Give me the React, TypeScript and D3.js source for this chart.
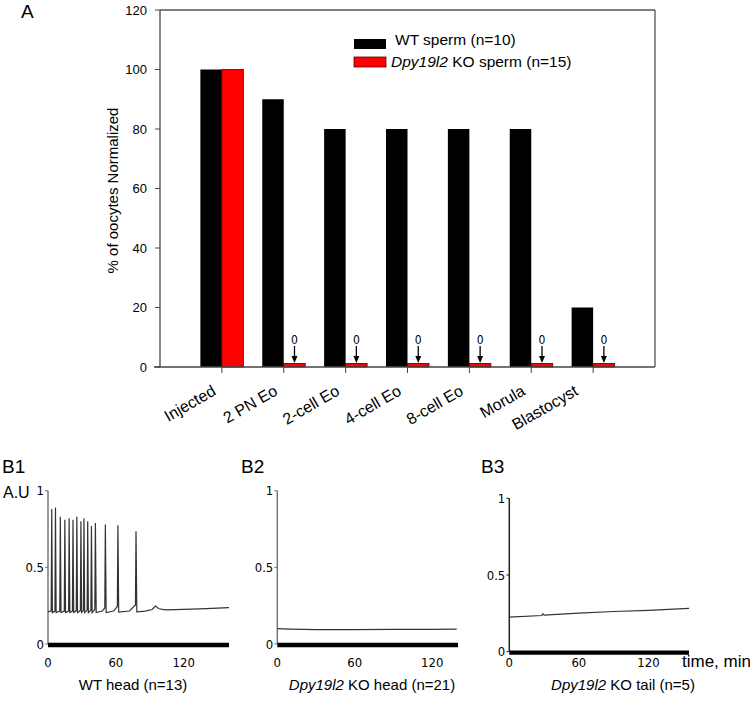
import React from "react";
import * as d3 from "d3";

// ---------- Panel A data ----------
const categories = ["Injected", "2 PN Eo", "2-cell Eo", "4-cell Eo", "8-cell Eo", "Morula", "Blastocyst"];
const wtValues = [100, 90, 80, 80, 80, 80, 20];
const koValues = [100, 0, 0, 0, 0, 0, 0];
const yTicksA = [0, 20, 40, 60, 80, 100, 120];
const wtLabel = "WT sperm (n=10)";
const koGene = "Dpy19l2";
const koLabelRest = " KO sperm (n=15)";
const yLabelA = "% of oocytes Normalized";

// ---------- Panel B data ----------
const bXTicks = [0, 60, 120];
const bYTicks = [0, 0.5, 1];
const bYTickLabels = ["0", "0.5", "1"];

const b1Trace: [number, number][] = [
  [0, 0.21], [2.8, 0.215], [3.3, 0.88], [3.9, 0.205],
  [6.1, 0.215], [6.6, 0.89], [7.2, 0.205],
  [10.4, 0.215], [10.9, 0.83], [11.5, 0.205],
  [14.4, 0.215], [14.9, 0.81], [15.5, 0.205],
  [18.2, 0.215], [18.7, 0.82], [19.3, 0.205],
  [21.6, 0.215], [22.1, 0.81], [22.7, 0.205],
  [25.0, 0.218], [25.5, 0.83], [26.1, 0.205],
  [28.6, 0.218], [29.1, 0.8], [29.7, 0.205],
  [31.3, 0.218], [31.8, 0.82], [32.4, 0.205],
  [34.6, 0.22], [35.1, 0.8], [35.7, 0.205],
  [37.9, 0.22], [38.4, 0.77], [39.0, 0.205],
  [41.4, 0.225], [41.9, 0.79], [42.6, 0.205],
  [48, 0.215], [50.2, 0.235], [50.7, 0.78], [51.4, 0.205],
  [58, 0.215], [61.3, 0.245], [61.8, 0.775], [62.5, 0.208],
  [72, 0.215], [77.3, 0.255], [77.8, 0.735], [78.5, 0.21],
  [86, 0.215], [92, 0.225], [95, 0.247], [98, 0.23], [104, 0.223],
  [120, 0.226], [140, 0.231], [160, 0.237],
];

const b2Trace: [number, number][] = [
  [0, 0.1], [10, 0.097], [30, 0.094], [60, 0.094], [90, 0.096], [120, 0.095], [139, 0.097],
];

const b3Trace: [number, number][] = [
  [0, 0.225], [28, 0.236], [29, 0.248], [30, 0.239], [60, 0.252], [90, 0.262], [120, 0.27], [155, 0.283],
];

const bPanels = [
  { id: "B1", trace: b1Trace, xMax: 160, x0: 48, x1: 229, y0: 644, y1: 490.7, caption: ["", "WT head (n=13)"], labelX: 2, captionX: 133, axisColor: "#777" },
  { id: "B2", trace: b2Trace, xMax: 140, x0: 277.3, x1: 458, y0: 644, y1: 490.7, caption: ["Dpy19l2", " KO head (n=21)"], labelX: 241, captionX: 372, axisColor: "#777" },
  { id: "B3", trace: b3Trace, xMax: 155, x0: 509.3, x1: 689, y0: 651.7, y1: 498.3, caption: ["Dpy19l2", " KO tail (n=5)"], labelX: 481, captionX: 623, axisColor: "#222" },
];

const SANS = "'Liberation Sans', Arial, sans-serif";
const NARROW = "'Liberation Sans Narrow', 'DejaVu Sans Condensed', sans-serif";

function PanelA() {
  const left = 160, right = 655, top = 10, bottom = 367;
  const x = d3.scaleLinear().domain([0, categories.length + 1]).range([left, right]);
  const y = d3.scaleLinear().domain([0, 120]).range([bottom, top]);
  const bw = 21.5;
  const stub = 1.2;
  return (
    <g>
      <text x={21} y={18} fontFamily={SANS} fontSize={19}>A</text>
      {/* bars */}
      {categories.map((c, i) => {
        const cx = x(i + 1);
        const kv = Math.max(koValues[i], stub);
        return (
          <g key={c}>
            <rect x={cx - bw} y={y(wtValues[i])} width={bw} height={y(0) - y(wtValues[i])} fill="#000" />
            <rect x={cx} y={y(kv)} width={bw} height={y(0) - y(kv)} fill="#ff0000" stroke="#5a0000" strokeWidth={0.8} />
            {koValues[i] === 0 && (
              <g>
                <text x={cx + bw / 2} y={y(0) - 23.5} fontFamily={NARROW} fontSize={12} textAnchor="middle">0</text>
                <line x1={cx + bw / 2} x2={cx + bw / 2} y1={y(0) - 21} y2={y(0) - 9} stroke="#000" strokeWidth={1.3} />
                <path d={`M${cx + bw / 2 - 3},${y(0) - 11} L${cx + bw / 2 + 3},${y(0) - 11} L${cx + bw / 2},${y(0) - 4} Z`} fill="#000" />
              </g>
            )}
          </g>
        );
      })}
      {/* frame */}
      <line x1={left} x2={right} y1={top} y2={top} stroke="#555" strokeWidth={1.3} />
      <line x1={right} x2={right} y1={top} y2={bottom} stroke="#555" strokeWidth={1.3} />
      <line x1={left} x2={left} y1={top} y2={bottom} stroke="#444" strokeWidth={1.3} />
      <line x1={left - 6} x2={right} y1={bottom} y2={bottom} stroke="#444" strokeWidth={1.3} />
      {/* y ticks */}
      {yTicksA.map((t) => (
        <g key={t}>
          <line x1={left - 5} x2={left} y1={y(t)} y2={y(t)} stroke="#444" strokeWidth={1} />
          <text x={147} y={y(t) + 4.5} fontFamily={SANS} fontSize={13} textAnchor="end">{t}</text>
        </g>
      ))}
      {/* x ticks & labels */}
      {categories.map((c, i) => {
        const cx = x(i + 1);
        const shift = i === categories.length - 1 ? -14 : -5;
        return (
          <g key={"t" + c}>
            <line x1={cx} x2={cx} y1={bottom} y2={bottom + 6} stroke="#444" strokeWidth={1} />
            <text transform={`translate(${cx + shift},394) rotate(-30)`} fontFamily={SANS} fontSize={16} textAnchor="end">{c}</text>
          </g>
        );
      })}
      <text transform={`translate(118,${(top + bottom) / 2 + 2}) rotate(-90)`} fontFamily={SANS} fontSize={15} textAnchor="middle">{yLabelA}</text>
      {/* legend */}
      <rect x={354} y={39} width={32} height={10} fill="#000" />
      <text x={395} y={45} fontFamily={SANS} fontSize={15.5}>{wtLabel}</text>
      <rect x={354} y={57} width={32} height={10} fill="#ff0000" stroke="#5a0000" strokeWidth={0.8} />
      <text x={391} y={67} fontFamily={SANS} fontSize={15.5}>
        <tspan fontStyle="italic">{koGene}</tspan>{koLabelRest}
      </text>
    </g>
  );
}

function PanelB({ p }: { p: typeof bPanels[number] }) {
  const x = d3.scaleLinear().domain([0, p.xMax]).range([p.x0, p.x1]);
  const y = d3.scaleLinear().domain([0, 1]).range([p.y0, p.y1]);
  const line = d3.line<[number, number]>().x((d) => x(d[0])).y((d) => y(d[1]));
  return (
    <g>
      <text x={p.labelX} y={473} fontFamily={SANS} fontSize={19}>{p.id}</text>
      <line x1={p.x0} x2={p.x0} y1={y(1)} y2={y(0)} stroke={p.axisColor} strokeWidth={1.5} />
      {bYTicks.map((t, i) => (
        <g key={t}>
          <line x1={p.x0 - 3} x2={p.x0} y1={y(t)} y2={y(t)} stroke={p.axisColor} strokeWidth={1} />
          <text x={p.x0 - 4} y={y(t) + 4.5} fontFamily={NARROW} fontSize={13} textAnchor="end">{bYTickLabels[i]}</text>
        </g>
      ))}
      <path d={line(p.trace) || ""} fill="none" stroke="#333" strokeWidth={1.2} />
      <line x1={p.x0} x2={p.x1} y1={y(0) + 1} y2={y(0) + 1} stroke="#000" strokeWidth={4.3} />
      {bXTicks.map((t) => (
        <text key={t} x={x(t)} y={667} fontFamily={NARROW} fontSize={13} textAnchor="middle">{t}</text>
      ))}
      <text x={p.captionX} y={690} fontFamily={SANS} fontSize={15} textAnchor="middle">
        {p.caption[0] && <tspan fontStyle="italic">{p.caption[0]}</tspan>}
        {p.caption[1]}
      </text>
    </g>
  );
}

export default function App() {
  return (
    <svg width={750} height={705} style={{ position: "absolute", left: 0, top: 0, background: "#fff" }}>
      <rect width={750} height={705} fill="#fff" />
      <PanelA />
      <text x={3} y={498} fontFamily={SANS} fontSize={16}>A.U</text>
      {bPanels.map((p) => (
        <PanelB key={p.id} p={p} />
      ))}
      <text x={682} y={667} fontFamily={SANS} fontSize={17}>time, min</text>
    </svg>
  );
}
